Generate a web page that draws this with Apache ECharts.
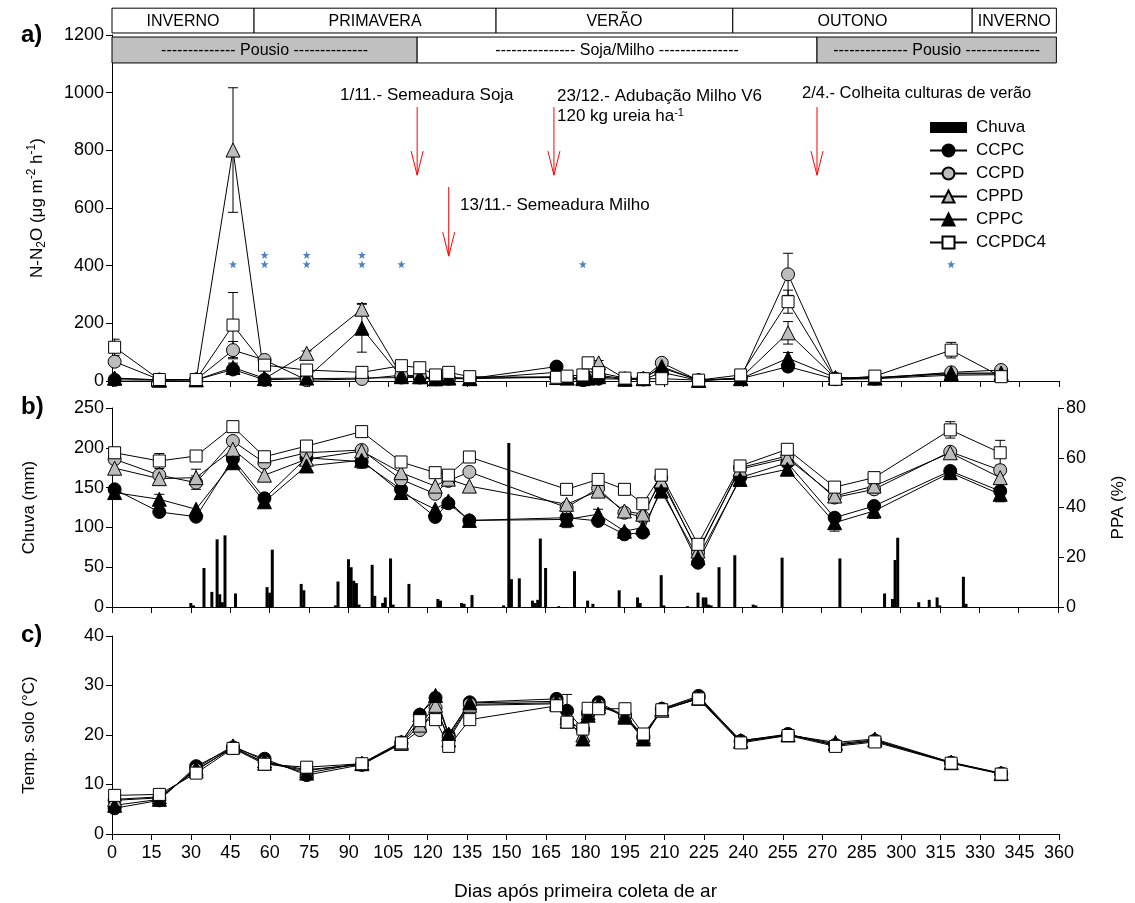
<!DOCTYPE html>
<html>
<head>
<meta charset="utf-8">
<script src="https://cdn.jsdelivr.net/npm/echarts@6/dist/echarts.min.js"></script>
<style>
  html, body { margin: 0; padding: 0; background: #ffffff; }
  #chart { width: 1135px; height: 903px; }
</style>
</head>
<body>
<div id="chart"></div>
<script>
// ---------------- Data ----------------
// Sampling days (days after the first air collection)
const daysN2O = [1, 18, 32, 46, 58, 74, 95, 110, 117, 123, 128, 136, 169, 173, 179, 181, 185, 195, 202, 209, 223, 239, 257, 275, 290, 319, 338];
const daysPPA = [1, 18, 32, 46, 58, 74, 95, 110, 123, 128, 136, 173, 185, 195, 202, 209, 223, 239, 257, 275, 290, 319, 338];
const daysTemp = daysN2O;

// a) N-N2O flux (ug m-2 h-1)
const n2oCCPC   = [4, 3, 4, 40, 4, 8, 10, 12, 12, 6, 8, 8, 50, 10, 8, 10, 8, 6, 5, 30, 2, 8, 50, 6, 8, 20, 22];
const n2oCCPD   = [67, 5, 5, 107, 73, 3, 7, 20, 18, 8, 10, 8, 15, 10, 3, 12, 20, 8, 8, 63, 2, 10, 370, 8, 10, 30, 38];
const n2oCPPD   = [10, 4, 5, 801, 8, 96, 249, 20, 15, 8, 12, 10, 12, 12, 10, 15, 63, 8, 10, 45, 3, 10, 167, 10, 12, 27, 28];
const n2oCPPC   = [10, 3, 4, 47, 9, 10, 183, 15, 15, 8, 10, 8, 30, 10, 8, 10, 15, 6, 8, 50, 2, 8, 79, 12, 10, 25, 25];
const n2oCCPDC4 = [117, 5, 5, 194, 55, 38, 30, 53, 46, 21, 30, 15, 13, 17, 21, 63, 29, 10, 8, 8, 3, 21, 275, 6, 17, 107, 15];

// a) standard errors (0 = not drawn)
const n2oErrCCPC   = [0, 0, 0, 12, 0, 0, 0, 0, 0, 0, 0, 0, 0, 0, 0, 0, 0, 0, 0, 0, 0, 0, 15, 0, 0, 0, 0];
const n2oErrCCPD   = [15, 0, 0, 30, 0, 0, 0, 0, 0, 0, 0, 0, 0, 0, 0, 0, 0, 0, 0, 0, 0, 0, 73, 0, 0, 0, 0];
const n2oErrCPPD   = [0, 0, 0, 216, 0, 8, 20, 0, 0, 0, 0, 0, 0, 0, 0, 0, 8, 0, 0, 0, 0, 0, 39, 0, 0, 0, 0];
const n2oErrCPPC   = [0, 0, 0, 15, 0, 0, 83, 0, 0, 0, 0, 0, 0, 0, 0, 0, 0, 0, 0, 0, 0, 0, 20, 0, 0, 0, 0];
const n2oErrCCPDC4 = [28, 0, 0, 113, 0, 0, 0, 0, 0, 0, 0, 0, 0, 0, 0, 0, 0, 0, 0, 0, 0, 0, 40, 0, 0, 27, 0];

// Significant differences between treatments (number of asterisks per day)
const signifDays  = [46, 58, 74, 95, 110, 179, 319];
const signifCount = [1, 2, 2, 2, 1, 1, 1];

// b) Rainfall (day, mm)
const rainDays = [30, 31, 35, 38, 40, 41, 42, 43, 47, 59, 60, 61, 72, 73, 85, 86, 90, 91, 92, 93, 94, 99, 100, 103, 104, 106, 107, 113, 124, 125, 133, 134, 137, 149, 151, 152, 155, 160, 161, 162, 163, 165, 170, 176, 181, 183, 193, 200, 201, 209, 210, 219, 223, 225, 226, 227, 228, 231, 237, 244, 245, 255, 277, 294, 297, 298, 299, 307, 311, 314, 315, 324, 325];
const rainMm   = [5, 2, 49, 19, 85, 16, 6, 90, 17, 25, 18, 72, 29, 21, 2, 32, 60, 50, 33, 30, 3, 53, 14, 5, 12, 61, 3, 29, 10, 8, 5, 4, 15, 2, 206, 35, 36, 8, 5, 9, 86, 49, 1, 45, 8, 4, 21, 12, 5, 40, 2, 1, 18, 12, 12, 3, 2, 50, 65, 3, 2, 62, 61, 17, 10, 59, 87, 6, 9, 12, 2, 38, 4];

// b) Water-filled pore space, PPA (%)
const ppaCCPC   = [47.3, 38.2, 36.3, 59.5, 43.7, 60.0, 58.4, 47.3, 36.2, 41.7, 34.8, 35.9, 34.6, 29.2, 29.9, 48.0, 17.8, 52.0, 58.0, 35.9, 40.6, 54.7, 46.6];
const ppaCCPD   = [59.4, 53.0, 50.0, 66.7, 58.0, 62.0, 63.1, 51.3, 45.5, 50.7, 54.3, 40.0, 47.7, 37.9, 36.2, 52.0, 21.8, 56.0, 60.7, 44.0, 47.3, 62.4, 55.0];
const ppaCPPD   = [55.8, 51.6, 52.0, 63.4, 53.0, 59.4, 62.7, 54.0, 48.6, 51.4, 48.6, 41.3, 46.6, 38.6, 37.3, 50.7, 22.5, 55.4, 59.8, 44.6, 48.6, 62.0, 52.0];
const ppaCPPC   = [46.0, 43.3, 39.3, 58.0, 42.3, 56.7, 59.0, 46.0, 39.3, 42.6, 34.8, 35.2, 37.3, 30.5, 31.9, 46.6, 19.8, 51.3, 55.4, 33.9, 38.6, 54.0, 45.3];
const ppaCCPDC4 = [62.0, 58.7, 60.7, 72.5, 60.4, 64.7, 70.5, 58.3, 54.0, 53.0, 60.3, 47.3, 51.3, 47.3, 41.5, 53.0, 25.2, 56.7, 63.4, 48.2, 52.0, 71.2, 62.0];

const ppaErrCCPD   = [0, 0, 2.7, 0, 0, 0, 0, 0, 0, 0, 0, 0, 0, 0, 0, 0, 0, 0, 0, 0, 0, 0, 0];
const ppaErrCPPD   = [0, 0, 3.4, 0, 0, 0, 0, 0, 0, 0, 0, 0, 0, 0, 0, 2.4, 0, 0, 0, 0, 0, 0, 0];
const ppaErrCCPC   = [0, 0, 0, 0, 0, 0, 2.6, 0, 0, 0, 0, 0, 0, 0, 0, 0, 0, 0, 0, 0, 0, 0, 0];
const ppaErrCPPC   = [0, 2.0, 0, 0, 0, 0, 0, 2.7, 0, 0, 0, 3.3, 2.0, 0, 0, 0, 0, 0, 0, 3.4, 3.0, 0, 3.0];
const ppaErrCCPDC4 = [0, 3.0, 0, 0, 0, 0, 0, 0, 0, 0, 0, 0, 0, 0, 0, 0, 0, 0, 0, 0, 0, 3.3, 5.0];

// c) Soil temperature (°C)
const tempCCPC   = [5.2, 6.8, 13.7, 17.5, 15.2, 11.9, 14.0, 18.5, 24.1, 27.5, 19.9, 26.6, 27.3, 24.9, 21.2, 24.2, 26.6, 23.8, 19.4, 25.3, 27.9, 18.8, 20.2, 17.9, 18.9, 14.4, 12.2];
const tempCCPD   = [6.8, 7.3, 13.0, 17.4, 14.5, 13.0, 14.0, 18.2, 21.0, 25.5, 19.5, 26.2, 26.5, 23.0, 21.0, 24.5, 26.0, 24.0, 19.8, 25.0, 27.5, 18.6, 20.0, 18.0, 18.8, 14.4, 12.2];
const tempCPPD   = [7.0, 7.5, 12.8, 17.6, 14.3, 12.8, 14.2, 18.3, 22.0, 26.0, 19.0, 26.0, 26.3, 22.8, 20.0, 24.5, 25.8, 24.0, 19.6, 25.0, 27.4, 18.7, 20.1, 18.2, 19.0, 14.4, 12.2];
const tempCPPC   = [5.8, 7.0, 13.3, 17.8, 14.8, 12.3, 14.3, 18.6, 24.1, 28.0, 20.2, 26.5, 26.8, 23.5, 19.2, 24.0, 26.3, 23.6, 19.2, 25.3, 27.6, 18.9, 20.0, 18.5, 19.2, 14.5, 12.3];
const tempCCPDC4 = [7.8, 8.0, 12.3, 17.3, 14.1, 13.5, 14.2, 18.4, 22.9, 23.1, 17.7, 23.1, 25.9, 22.6, 21.2, 25.4, 25.3, 25.3, 20.2, 25.1, 27.3, 18.4, 19.9, 17.7, 18.6, 14.3, 12.1];
const tempErrCCPC = [0, 0, 0, 0, 0, 0, 0, 0, 0, 0, 0, 0, 0, 3.3, 0, 0, 0, 0, 0, 0, 0, 0, 0, 0, 0, 0, 0];

// Seasons and crop periods (day boundaries)
const seasonNames  = ['INVERNO', 'PRIMAVERA', 'VERÃO', 'OUTONO', 'INVERNO'];
const seasonBounds = [0, 54, 146, 236, 327, 359];
const cropNames    = ['-------------- Pousio --------------', '--------------- Soja/Milho ---------------', '-------------- Pousio --------------'];
const cropBounds   = [0, 116, 268, 359];
const cropFallow   = [true, false, true];

// Management events (day of arrow)
const eventDays = [116, 128, 168, 268];

// Axis ticks
const xTicks = { min: 0, max: 360, step: 15 };
const n2oTicks = { min: 0, max: 1200, step: 200 };
const rainTicks = { min: 0, max: 250, step: 50 };
const ppaTicks = { min: 0, max: 80, step: 20 };
const tempTicks = { min: 0, max: 40, step: 10 };

// ---------------- Layout / style ----------------
const FONT = '"Liberation Sans", Arial, Helvetica, sans-serif';
const GRID_LEFT = 112, GRID_RIGHT = 76;
const SEASON_ROW = [1207, 1293];   // y-range (axis units) of the season strip
const CROP_ROW = [1103, 1193];     // y-range of the crop/fallow strip
const SIG_LEVEL = [405, 437];      // heights of the asterisk rows
const ARROW_SPAN = [[950, 714], [673, 433], [950, 714], [950, 714]];
const GRAY = '#bdbdbd';

const STYLE = {
  CCPC:   { symbol: 'circle',   size: 13, fill: '#000000' },
  CCPD:   { symbol: 'circle',   size: 13, fill: GRAY },
  CPPD:   { symbol: 'triangle', size: 14, fill: GRAY },
  CPPC:   { symbol: 'triangle', size: 14, fill: '#000000' },
  CCPDC4: { symbol: 'rect',     size: 12, fill: '#ffffff' }
};

const pair = (xs, ys) => xs.map((x, i) => [x, ys[i]]);
const triples = (xs, ys, es) => xs.map((x, i) => [x, ys[i], es[i]]).filter(d => d[2] > 0);

function lineSeries(name, data, xi, yi) {
  const st = STYLE[name];
  return {
    type: 'line', name, data, xAxisIndex: xi, yAxisIndex: yi,
    symbol: st.symbol, symbolSize: st.size, showSymbol: true, showAllSymbol: true,
    lineStyle: { color: '#000', width: 1 },
    itemStyle: { color: st.fill, borderColor: '#000', borderWidth: 1 },
    emphasis: { disabled: true }, silent: true, z: 3
  };
}

function errRender(params, api) {
  const x = api.value(0), y = api.value(1), e = api.value(2);
  const t = api.coord([x, y + e]), b = api.coord([x, y - e]);
  const w = 5, st = { stroke: '#000', lineWidth: 1 };
  return { type: 'group', children: [
    { type: 'line', shape: { x1: t[0], y1: t[1], x2: b[0], y2: b[1] }, style: st },
    { type: 'line', shape: { x1: t[0] - w, y1: t[1], x2: t[0] + w, y2: t[1] }, style: st },
    { type: 'line', shape: { x1: b[0] - w, y1: b[1], x2: b[0] + w, y2: b[1] }, style: st }
  ]};
}

function errSeries(data, xi, yi) {
  return { type: 'custom', xAxisIndex: xi, yAxisIndex: yi, data, clip: true, silent: true, z: 2,
    dimensions: ['x', 'y', 'e'], encode: { x: 0, y: 1 }, renderItem: errRender };
}

function stripSeries(names, bounds, row, fills) {
  const data = names.map((n, i) => [bounds[i], bounds[i + 1]]);
  return {
    type: 'custom', xAxisIndex: 0, yAxisIndex: 0, clip: false, silent: true, z: 5,
    data, dimensions: ['s', 'e'], encode: { x: [0, 1] },
    renderItem: (params, api) => {
      const i = params.dataIndex;
      const p0 = api.coord([api.value(0), row[1]]);
      const p1 = api.coord([api.value(1), row[0]]);
      return { type: 'group', children: [
        { type: 'rect', shape: { x: p0[0], y: p0[1], width: p1[0] - p0[0], height: p1[1] - p0[1] },
          style: { fill: fills[i], stroke: '#000', lineWidth: 1 } },
        { type: 'text', style: { text: names[i], x: (p0[0] + p1[0]) / 2, y: (p0[1] + p1[1]) / 2 + 1,
          align: 'center', verticalAlign: 'middle', fontSize: 16, fontFamily: FONT, fill: '#000' } }
      ]};
    }
  };
}

const arrowSeries = {
  type: 'custom', xAxisIndex: 0, yAxisIndex: 0, clip: false, silent: true, z: 4,
  data: eventDays.map(d => [d]), dimensions: ['x'], encode: { x: 0 },
  renderItem: (params, api) => {
    const span = ARROW_SPAN[params.dataIndex];
    const t = api.coord([api.value(0), span[0]]), b = api.coord([api.value(0), span[1]]);
    const st = { stroke: '#ff0000', lineWidth: 1, fill: 'none' };
    return { type: 'group', children: [
      { type: 'line', shape: { x1: t[0], y1: t[1], x2: b[0], y2: b[1] }, style: st },
      { type: 'polyline', shape: { points: [[b[0] - 6, b[1] - 24], [b[0], b[1]], [b[0] + 6, b[1] - 24]] }, style: st }
    ]};
  }
};

const starPath = 'path://M0,-10L2.35,-3.24L9.51,-3.09L3.8,1.24L5.88,8.09L0,4L-5.88,8.09L-3.8,1.24L-9.51,-3.09L-2.35,-3.24Z';
const sigData = [];
signifDays.forEach((d, i) => { for (let k = 0; k < signifCount[i]; k++) sigData.push([d, SIG_LEVEL[k]]); });

const plainNumber = v => String(v);

function xAxis(gridIndex, showLabels, name) {
  return {
    type: 'value', gridIndex, min: xTicks.min, max: xTicks.max, interval: xTicks.step,
    axisLine: { show: true, onZero: false, lineStyle: { color: '#000', width: 1 } },
    axisTick: { show: true, length: 6, lineStyle: { color: '#000' } },
    axisLabel: { show: showLabels, fontSize: 18, fontFamily: FONT, color: '#000', margin: 10, formatter: plainNumber },
    splitLine: { show: false },
    name: name || '', nameLocation: 'middle', nameGap: 48,
    nameTextStyle: { fontSize: 19, fontFamily: FONT, color: '#000' }
  };
}

function yAxis(gridIndex, t, name, pos, gap, rich) {
  return {
    type: 'value', gridIndex, min: t.min, max: t.max, interval: t.step, position: pos || 'left',
    axisLine: { show: true, lineStyle: { color: '#000', width: 1 } },
    axisTick: { show: true, length: 6, lineStyle: { color: '#000' } },
    axisLabel: { fontSize: 18, fontFamily: FONT, color: '#000', margin: 8, formatter: plainNumber },
    splitLine: { show: false },
    name, nameLocation: 'middle', nameRotate: 90, nameGap: gap,
    nameTextStyle: Object.assign({ fontSize: 17, fontFamily: FONT, color: '#000' }, rich || {})
  };
}

const chart = echarts.init(document.getElementById('chart'), null, { renderer: 'canvas' });

const series = [
  stripSeries(seasonNames, seasonBounds, SEASON_ROW, seasonNames.map(() => '#ffffff')),
  stripSeries(cropNames, cropBounds, CROP_ROW, cropFallow.map(f => f ? '#c0c0c0' : '#ffffff')),
  arrowSeries,
  errSeries([].concat(
    triples(daysN2O, n2oCCPC, n2oErrCCPC), triples(daysN2O, n2oCCPD, n2oErrCCPD),
    triples(daysN2O, n2oCPPD, n2oErrCPPD), triples(daysN2O, n2oCPPC, n2oErrCPPC),
    triples(daysN2O, n2oCCPDC4, n2oErrCCPDC4)), 0, 0),
  lineSeries('CCPC', pair(daysN2O, n2oCCPC), 0, 0),
  lineSeries('CCPD', pair(daysN2O, n2oCCPD), 0, 0),
  lineSeries('CPPD', pair(daysN2O, n2oCPPD), 0, 0),
  lineSeries('CPPC', pair(daysN2O, n2oCPPC), 0, 0),
  lineSeries('CCPDC4', pair(daysN2O, n2oCCPDC4), 0, 0),
  { type: 'scatter', xAxisIndex: 0, yAxisIndex: 0, data: sigData, symbol: starPath, symbolSize: 8,
    itemStyle: { color: '#1f62b5' }, silent: true, z: 4 },

  { type: 'bar', name: 'Chuva', xAxisIndex: 1, yAxisIndex: 1, data: pair(rainDays, rainMm),
    barWidth: 3, itemStyle: { color: '#000' }, silent: true, z: 1 },
  errSeries([].concat(
    triples(daysPPA, ppaCCPC, ppaErrCCPC), triples(daysPPA, ppaCCPD, ppaErrCCPD),
    triples(daysPPA, ppaCPPD, ppaErrCPPD), triples(daysPPA, ppaCPPC, ppaErrCPPC),
    triples(daysPPA, ppaCCPDC4, ppaErrCCPDC4)), 1, 2),
  lineSeries('CCPC', pair(daysPPA, ppaCCPC), 1, 2),
  lineSeries('CCPD', pair(daysPPA, ppaCCPD), 1, 2),
  lineSeries('CPPD', pair(daysPPA, ppaCPPD), 1, 2),
  lineSeries('CPPC', pair(daysPPA, ppaCPPC), 1, 2),
  lineSeries('CCPDC4', pair(daysPPA, ppaCCPDC4), 1, 2),

  errSeries(triples(daysTemp, tempCCPC, tempErrCCPC), 2, 3),
  lineSeries('CCPC', pair(daysTemp, tempCCPC), 2, 3),
  lineSeries('CCPD', pair(daysTemp, tempCCPD), 2, 3),
  lineSeries('CPPD', pair(daysTemp, tempCPPD), 2, 3),
  lineSeries('CPPC', pair(daysTemp, tempCPPC), 2, 3),
  lineSeries('CCPDC4', pair(daysTemp, tempCCPDC4), 2, 3)
];

const annoStyle = { fontSize: 17, fontFamily: FONT, fill: '#000', verticalAlign: 'middle' };
const annotations = [
  { text: '1/11.- Semeadura Soja', x: 340, y: 95 },
  { text: '23/12.- Adubação Milho V6', x: 557, y: 96 },
  { text: '120 kg ureia ha{sup|-1}', x: 557, y: 116 },
  { text: '2/4.- Colheita culturas de verão', x: 802, y: 93, size: 16.5 },
  { text: '13/11.- Semeadura Milho', x: 460, y: 205 }
];
const panelTags = [{ text: 'a)', y: 35 }, { text: 'b)', y: 407 }, { text: 'c)', y: 635 }];

chart.setOption({
  animation: false,
  backgroundColor: '#ffffff',
  textStyle: { fontFamily: FONT },
  grid: [
    { left: GRID_LEFT, right: GRID_RIGHT, top: 35, height: 346 },
    { left: GRID_LEFT, right: GRID_RIGHT, top: 408, height: 199 },
    { left: GRID_LEFT, right: GRID_RIGHT, top: 636, height: 198 }
  ],
  xAxis: [xAxis(0, false), xAxis(1, false), xAxis(2, true, 'Dias após primeira coleta de ar')],
  yAxis: [
    yAxis(0, n2oTicks, 'N-N{sub|2}O (μg m{sup|-2} h{sup|-1})', 'left', 64, {
      lineHeight: 22,
      rich: {
        sub: { fontSize: 12, fontFamily: FONT, lineHeight: 12, verticalAlign: 'bottom' },
        sup: { fontSize: 12, fontFamily: FONT, lineHeight: 12, verticalAlign: 'top' }
      }
    }),
    yAxis(1, rainTicks, 'Chuva (mm)', 'left', 74),
    yAxis(1, ppaTicks, 'PPA (%)', 'right', 52),
    yAxis(2, tempTicks, 'Temp. solo (°C)', 'left', 74)
  ],
  legend: {
    orient: 'vertical', left: 929, top: 119, itemWidth: 37, itemHeight: 15, itemGap: 6,
    padding: 0, selectedMode: false,
    textStyle: { fontSize: 17, fontFamily: FONT, color: '#000', padding: [0, 0, 0, 4] },
    data: [{ name: 'Chuva', icon: 'path://M0,0L37,0L37,11L0,11Z' }, 'CCPC', 'CCPD', 'CPPD', 'CPPC', 'CCPDC4']
  },
  graphic: [
    ...panelTags.map(p => ({ type: 'text', x: 21, y: p.y, style: { text: p.text, fontSize: 24, fontWeight: 'bold',
      fontFamily: FONT, fill: '#000', verticalAlign: 'middle' } })),
    ...annotations.map(a => ({ type: 'text', x: a.x, y: a.y, style: Object.assign({ text: a.text,
      rich: { sup: { fontSize: 11, fontFamily: FONT, lineHeight: 10, verticalAlign: 'top' } } }, annoStyle,
      a.size ? { fontSize: a.size } : {}) }))
  ],
  series
});
</script>
</body>
</html>
